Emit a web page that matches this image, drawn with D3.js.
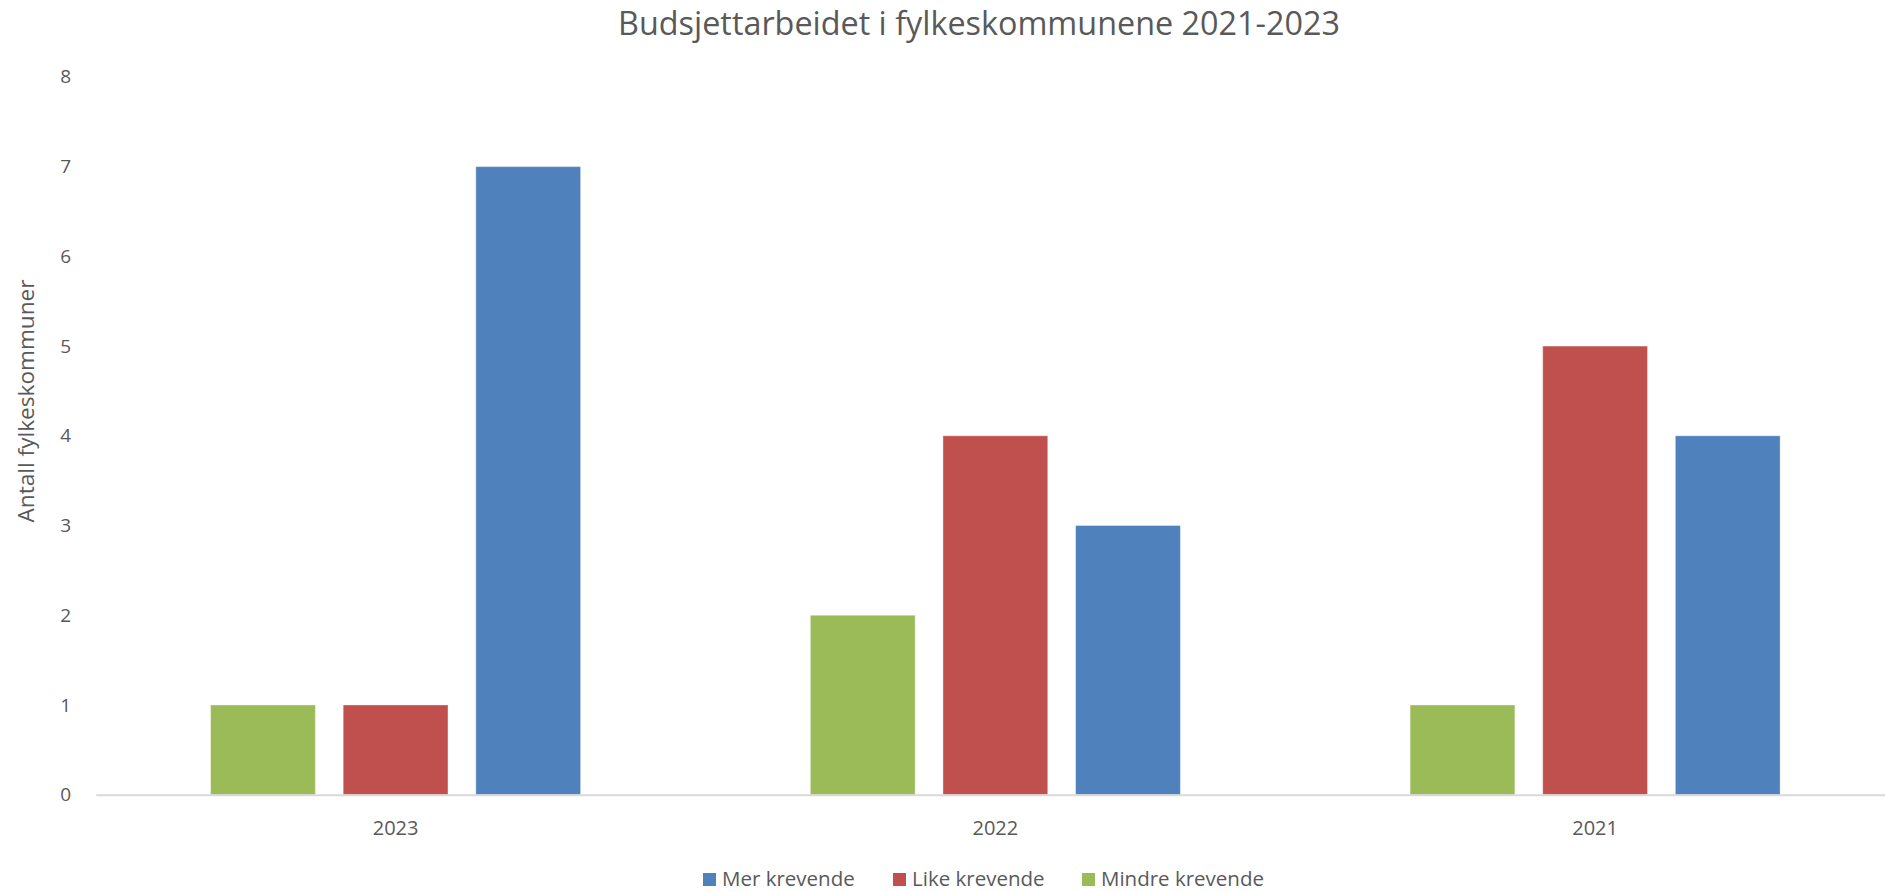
<!DOCTYPE html>
<html>
<head>
<meta charset="utf-8">
<script src="https://cdn.jsdelivr.net/npm/d3@7"></script>
<style>
  html, body { margin: 0; padding: 0; background: #fff; }
  svg { display: block; }
  text { font-family: "Open Sans", "Noto Sans", sans-serif; fill: #595959; }
</style>
</head>
<body>
<svg id="chart" width="1885" height="892"></svg>
<script>
const title = "Budsjettarbeidet i fylkeskommunene 2021-2023";
const yAxisTitle = "Antall fylkeskommuner";
const categories = ["2023", "2022", "2021"];
const seriesNames = ["Mindre krevende", "Like krevende", "Mer krevende"];
const legendOrder = ["Mer krevende", "Like krevende", "Mindre krevende"];
const mindreKrevende = [1, 2, 1];
const likeKrevende = [1, 4, 5];
const merKrevende = [7, 3, 4];
const yTicks = [0, 1, 2, 3, 4, 5, 6, 7, 8];
const colors = {"Mer krevende": "#4F81BD", "Like krevende": "#C0504D", "Mindre krevende": "#9BBB59"};

const seriesValues = {"Mindre krevende": mindreKrevende, "Like krevende": likeKrevende, "Mer krevende": merKrevende};

const svg = d3.select("#chart");
const plot = {left: 95.7, right: 1895, top: 76.9, bottom: 794.7};

const x0 = d3.scaleBand().domain(categories).range([plot.left, plot.right]).padding(0);
const groupHalf = 185;
const x1 = d3.scaleBand().domain(seriesNames).range([-groupHalf, groupHalf]).paddingInner(0.21).paddingOuter(0);
const y = d3.scaleLinear().domain([0, 8]).range([plot.bottom, plot.top]);

function fit(sel, base, target) {
  sel.style("font-size", base + "px");
  const w = sel.node().getComputedTextLength();
  sel.style("font-size", (base * target / w) + "px");
}

// Title
const t = svg.append("text").attr("x", 979).attr("y", 35).attr("text-anchor", "middle").text(title);
fit(t, 30, 722);

// Y tick labels
const yAxis = d3.axisLeft(y).tickValues(yTicks).tickSize(0).tickPadding(0).tickFormat(d3.format("d"));
const yg = svg.append("g").attr("transform", `translate(71,0)`).call(yAxis);
yg.select(".domain").remove();
yg.selectAll("text").style("font-size", "19px").attr("fill", "#595959").style("font-family", "'Open Sans', sans-serif");

// Bars
const rows = categories.map((c, i) => ({cat: c, values: seriesNames.map(s => ({series: s, value: seriesValues[s][i]}))}));
const groups = svg.append("g").selectAll("g").data(rows).join("g")
  .attr("transform", d => `translate(${x0(d.cat) + x0.bandwidth() / 2},0)`);
groups.selectAll("rect").data(d => d.values).join("rect")
  .attr("x", d => x1(d.series))
  .attr("width", x1.bandwidth())
  .attr("y", d => y(d.value))
  .attr("height", d => y(0) - y(d.value))
  .attr("fill", d => colors[d.series])
  .attr("stroke", "#ffffff").attr("stroke-opacity", 0.35).attr("stroke-width", 1);

// X axis baseline + labels
const xAxis = d3.axisBottom(x0).tickSize(0).tickPadding(0);
const xg = svg.append("g").attr("transform", `translate(0,${plot.bottom})`).call(xAxis);
xg.select(".domain").attr("stroke", "#d9d9d9").attr("stroke-width", 2);
xg.selectAll("text").attr("dy", null).attr("y", 40).style("font-size", "20px").attr("fill", "#595959")
  .style("font-family", "'Open Sans', sans-serif");

// Y axis title
const yt = svg.append("text").attr("transform", "translate(34,401) rotate(-90)").attr("text-anchor", "middle").text(yAxisTitle);
fit(yt, 20, 243);

// Legend
const legendX = [703, 893, 1082];
const lg = svg.append("g").selectAll("g").data(legendOrder).join("g")
  .attr("transform", (d, i) => `translate(${legendX[i]},879)`);
lg.append("rect").attr("x", 0).attr("y", -6).attr("width", 13).attr("height", 13).attr("fill", d => colors[d]);
lg.append("text").attr("x", 19).attr("y", 7).style("font-size", "20.5px").text(d => d);
</script>
</body>
</html>
